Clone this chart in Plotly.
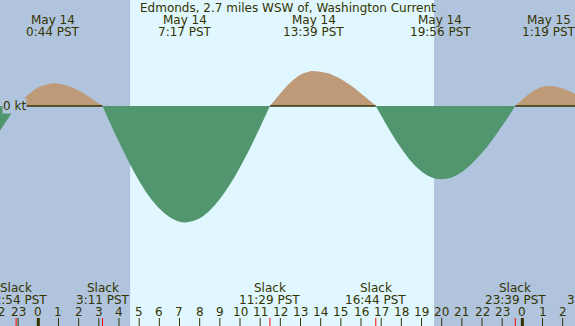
import plotly.graph_objects as go

# ---------------- data ----------------
# hours since May 14 00:00 PST, current speed in knots (+ flood, - ebb)
hours = [-2.0, -1.5, -1.1, -0.5, 0.0, 0.733, 1.0, 1.5, 2.0, 2.5, 3.0, 3.183,
         3.5, 4.0, 4.5, 5.0, 5.5, 6.0, 6.5, 7.0, 7.283, 7.5, 8.0, 8.5, 9.0,
         9.5, 10.0, 10.5, 11.0, 11.483, 12.0, 12.5, 13.0, 13.5, 13.65, 14.0,
         14.5, 15.0, 15.5, 16.0, 16.5, 16.733, 17.0, 17.5, 18.0, 18.5, 19.0,
         19.5, 19.933, 20.0, 20.5, 21.0, 21.5, 22.0, 22.5, 23.0, 23.5, 23.65,
         24.0, 24.5, 25.0, 25.317, 25.5, 26.0, 26.5, 27.0, 27.55]
speed_kt = [-0.46, -0.21, 0.0, 0.19, 0.31, 0.38, 0.37, 0.33, 0.26, 0.16, 0.04, 0.0,
            -0.24, -0.60, -0.94, -1.25, -1.51, -1.71, -1.85, -1.93, -1.94, -1.93, -1.87, -1.74, -1.55,
            -1.31, -1.02, -0.70, -0.35, 0.0, 0.21, 0.39, 0.52, 0.58, 0.58, 0.57,
            0.53, 0.45, 0.34, 0.21, 0.07, 0.0, -0.16, -0.45, -0.71, -0.93, -1.09,
            -1.19, -1.22, -1.22, -1.19, -1.10, -0.96, -0.78, -0.57, -0.33, -0.08, 0.0,
            0.11, 0.24, 0.32, 0.33, 0.33, 0.29, 0.22, 0.12, 0.0]

ext_hours = [0.733, 7.283, 13.65, 19.933, 25.317]
ext_dates = ["May 14", "May 14", "May 14", "May 14", "May 15"]
ext_times = ["0:44 PST", "7:17 PST", "13:39 PST", "19:56 PST", "1:19 PST"]

slack_hours = [-1.1, 3.183, 11.483, 16.733, 23.65, 27.55]
slack_times = ["22:54 PST", "3:11 PST", "11:29 PST", "16:44 PST", "23:39 PST", "3:33 PST"]

sunrise_h = 4.55
sunset_h = 19.62
hour_ticks = list(range(-2, 28))
title = "Edmonds, 2.7 miles WSW of, Washington Current"

# ---------------- layout constants ----------------
W, H = 575, 326
X0, X1 = -1.9, 26.61
ZERO_PX, PX_PER_KT = 106, 60.0
Y1 = ZERO_PX / PX_PER_KT
Y0 = -(H - ZERO_PX) / PX_PER_KT

NIGHT = "#b0c4de"
DAY = "#e0f7ff"
EBB = "#529670"
FLOOD = "#be9a78"
FG = "#333300"
FONT = dict(family="DejaVu Sans", size=12, color=FG)


def ypaper(px):
    return 1 - px / H


def xpaper(h):
    return (h - X0) / (X1 - X0)


# split curve into flood / ebb segments at slack points
segs, cur = [], []
for h, v in zip(hours, speed_kt):
    cur.append((h, v))
    if v == 0 and len(cur) > 1:
        segs.append(cur)
        cur = [(h, v)]
if len(cur) > 1:
    segs.append(cur)

fig = go.Figure()
flood_segs = [s for s in segs if max(v for _, v in s) > 0]
ebb_segs = [s for s in segs if min(v for _, v in s) < 0]

for s in flood_segs:
    fig.add_trace(go.Scatter(x=[p[0] for p in s], y=[p[1] for p in s], mode="lines",
                             line=dict(shape="spline", width=0, color=FLOOD),
                             fill="tozeroy", fillcolor=FLOOD, hoverinfo="skip"))
for s in flood_segs:
    fig.add_trace(go.Scatter(x=[s[0][0], s[-1][0]], y=[0, 0], mode="lines",
                             line=dict(width=1.6, color=FG), hoverinfo="skip"))
for s in ebb_segs:
    fig.add_trace(go.Scatter(x=[p[0] for p in s], y=[p[1] for p in s], mode="lines",
                             line=dict(shape="spline", width=0, color=EBB),
                             fill="tozeroy", fillcolor=EBB, hoverinfo="skip"))

shapes = []
# night shading
shapes.append(dict(type="rect", xref="x", yref="paper", x0=X0 - 1, x1=sunrise_h, y0=0, y1=1,
                   fillcolor=NIGHT, line_width=0, layer="below"))
shapes.append(dict(type="rect", xref="x", yref="paper", x0=sunset_h, x1=X1 + 2, y0=0, y1=1,
                   fillcolor=NIGHT, line_width=0, layer="below"))
# hour ticks
for h in hour_ticks:
    shapes.append(dict(type="line", xref="x", yref="paper", x0=h, x1=h, y0=0, y1=8 / H,
                       line=dict(color=FG, width=3 if h % 24 == 0 else 1), layer="above"))
# slack marks
for h in slack_hours:
    shapes.append(dict(type="line", xref="x", yref="paper", x0=h, x1=h, y0=0, y1=8 / H,
                       line=dict(color="red", width=1), layer="above"))

ann = []


def text(xp, y_base, s, xanchor="center", bg=None):
    d = dict(x=xp, y=ypaper(y_base - 4.3), xref="paper", yref="paper", text=s, showarrow=False,
             xanchor=xanchor, yanchor="middle", font=FONT, borderpad=0)
    if bg:
        d["bgcolor"] = bg
    ann.append(d)


text(0.5, 12, title)
for h, d, t in zip(ext_hours, ext_dates, ext_times):
    text(xpaper(h), 24, d)
    text(xpaper(h), 36, t)
for h, t in zip(slack_hours, slack_times):
    text(xpaper(h), 292, "Slack")
    text(xpaper(h), 304, t)
for h in hour_ticks:
    text(xpaper(h), 316, str(h % 24))
text(0.004, ZERO_PX + 4.3, "0 kt", xanchor="left", bg=NIGHT)

fig.update_layout(
    width=W, height=H, autosize=False,
    margin=dict(l=0, r=0, t=0, b=0, pad=0),
    paper_bgcolor=DAY, plot_bgcolor=DAY,
    showlegend=False,
    xaxis=dict(range=[X0, X1], visible=False, fixedrange=True),
    yaxis=dict(range=[Y0, Y1], visible=False, fixedrange=True),
    shapes=shapes, annotations=ann,
)

fig.write_html("out.html")
